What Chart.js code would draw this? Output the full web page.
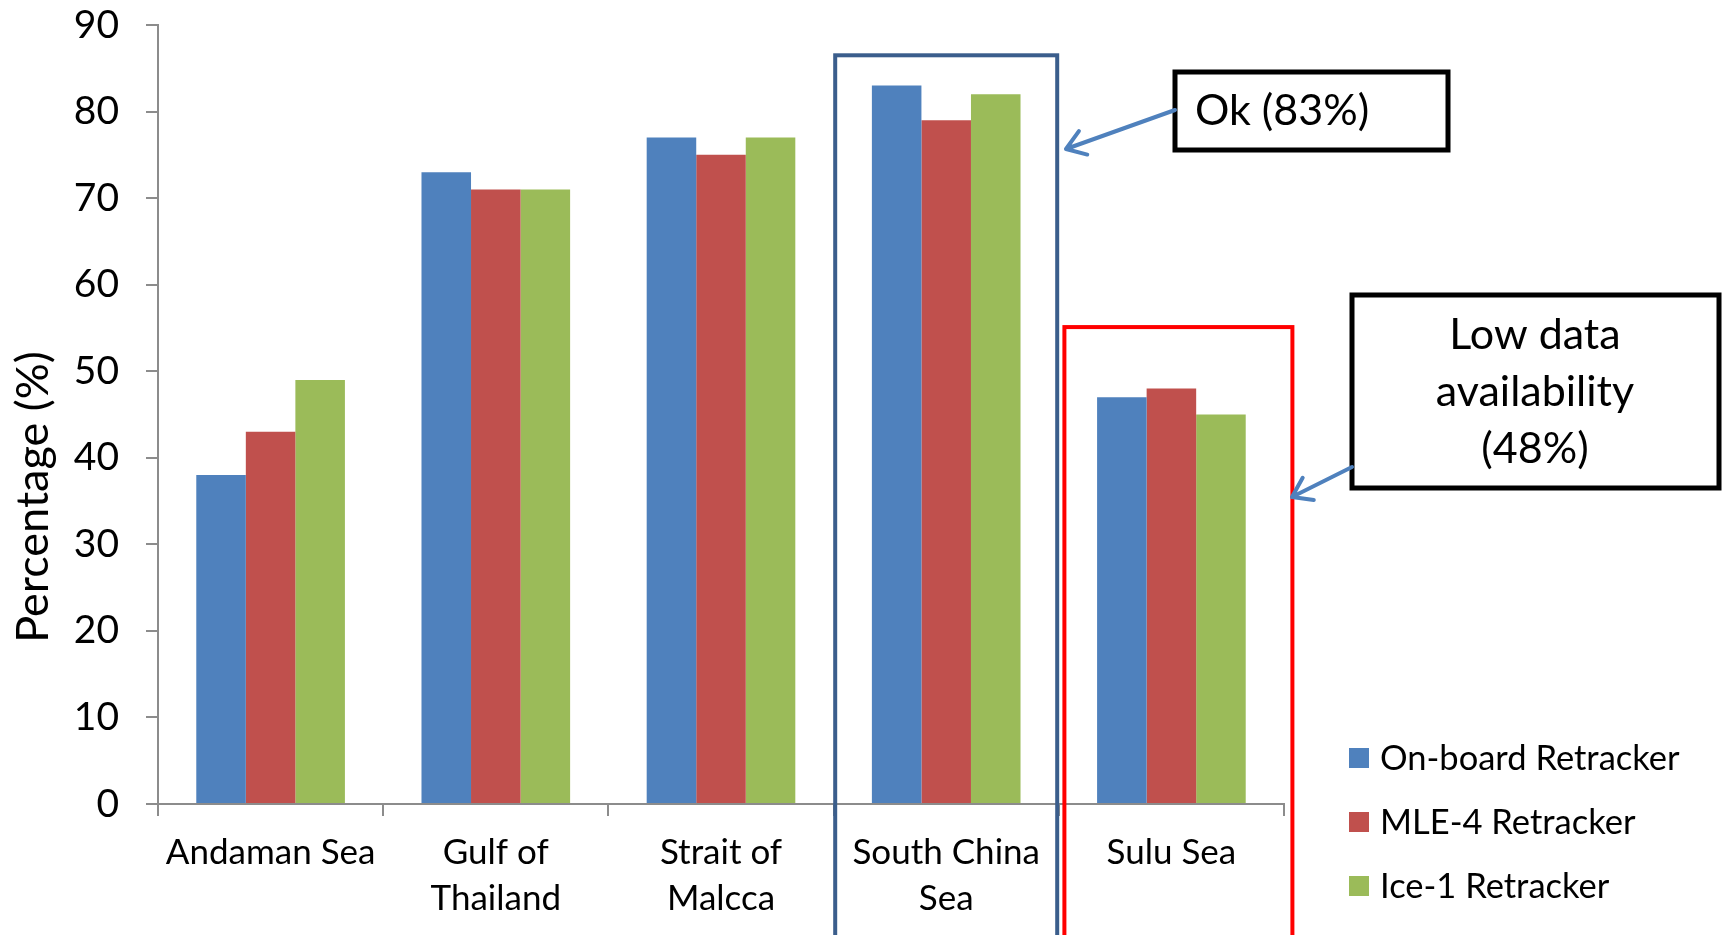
<!DOCTYPE html>
<html>
<head>
<meta charset="utf-8">
<script src="https://cdn.jsdelivr.net/npm/chart.js@4/dist/chart.umd.min.js"></script>
<style>
  html, body { margin: 0; padding: 0; background: #fff; }
  #wrap { width: 1723px; height: 935px; }
</style>
</head>
<body>
<div id="wrap"><canvas id="barChart" width="1723" height="935"></canvas></div>
<script>
const seas = [['Andaman Sea'], ['Gulf of', 'Thailand'], ['Strait of', 'Malcca'], ['South China', 'Sea'], ['Sulu Sea']]
const onBoard = [38, 73, 77, 83, 47]
const mle4 = [43, 71, 75, 79, 48]
const ice1 = [49, 71, 77, 82, 45]
const yTicks = [0, 10, 20, 30, 40, 50, 60, 70, 80, 90]

const FONT = 'Lato, "Open Sans", sans-serif'
const AXIS_GREY = '#8c8c8c'

// axis title, boxes, arrows and the legend drawn on top of the chart
const extras = {
  id: 'extras',
  afterDraw(chart) {
    const ctx = chart.ctx
    const x = chart.scales.x
    const y = chart.scales.y
    ctx.save()

    // y axis title (sits lower than the centre of the axis in the original)
    ctx.save()
    ctx.translate(33, 497)
    ctx.rotate(-Math.PI / 2)
    ctx.fillStyle = '#000'
    ctx.font = '45px ' + FONT
    ctx.textAlign = 'center'
    ctx.textBaseline = 'middle'
    ctx.fillText('Percentage (%)', 0, 0)
    ctx.restore()

    // highlight around South China Sea
    let cx = x.getPixelForValue(3)
    ctx.strokeStyle = '#3B5E8C'
    ctx.lineWidth = 4
    ctx.strokeRect(cx - 111, y.getPixelForValue(86.5), 222, chart.height)

    // highlight around Sulu Sea
    cx = x.getPixelForValue(4)
    ctx.strokeStyle = '#FF0000'
    ctx.strokeRect(cx - 107, y.getPixelForValue(55.1), 228, chart.height)

    // callout boxes
    ctx.strokeStyle = '#000'
    ctx.lineWidth = 5
    ctx.strokeRect(1175, 72, 273, 78)
    ctx.strokeRect(1352, 295, 367, 193)

    ctx.fillStyle = '#000'
    ctx.font = '43px ' + FONT
    ctx.textBaseline = 'middle'
    ctx.textAlign = 'left'
    ctx.fillText('Ok (83%)', 1195, 111)
    ctx.textAlign = 'center'
    ctx.fillText('Low data', 1535, 335)
    ctx.fillText('availability', 1535, 392)
    ctx.fillText('(48%)', 1535, 449)

    // arrows
    const arrow = (x1, y1, x2, y2) => {
      ctx.strokeStyle = '#4F81BD'
      ctx.lineWidth = 4
      ctx.lineCap = 'round'
      ctx.lineJoin = 'round'
      ctx.beginPath()
      ctx.moveTo(x1, y1)
      ctx.lineTo(x2, y2)
      const a = Math.atan2(y2 - y1, x2 - x1)
      const h = 22
      ctx.moveTo(x2 - h * Math.cos(a - 0.6), y2 - h * Math.sin(a - 0.6))
      ctx.lineTo(x2, y2)
      ctx.lineTo(x2 - h * Math.cos(a + 0.6), y2 - h * Math.sin(a + 0.6))
      ctx.stroke()
    }
    arrow(1175, 110, 1066, 149)
    arrow(1352, 467, 1292, 497)

    // legend
    ctx.font = '34.5px ' + FONT
    ctx.textAlign = 'left'
    chart.data.datasets.forEach((ds, i) => {
      const ly = 758 + i * 64
      ctx.fillStyle = ds.backgroundColor
      ctx.fillRect(1349, ly - 10, 20, 20)
      ctx.fillStyle = '#000'
      ctx.fillText(ds.label, 1380, ly + 1)
    })
    ctx.restore()
  }
}

const barData = {
  labels: seas,
  datasets: [
    { label: 'On-board Retracker', data: onBoard, backgroundColor: '#4F81BD' },
    { label: 'MLE-4 Retracker', data: mle4, backgroundColor: '#C0504D' },
    { label: 'Ice-1 Retracker', data: ice1, backgroundColor: '#9BBB59' },
  ],
}

const barConfig = {
  type: 'bar',
  data: barData,
  options: {
    responsive: false,
    animation: false,
    layout: { padding: { left: 0, right: 439, top: 0, bottom: 0 } },
    datasets: { bar: { barPercentage: 1, categoryPercentage: 0.66 } },
    plugins: { legend: { display: false }, tooltip: { enabled: false } },
    scales: {
      x: {
        offset: true,
        border: { color: AXIS_GREY, width: 2 },
        grid: { display: true, drawOnChartArea: false, offset: true, color: AXIS_GREY, lineWidth: 2, tickLength: 12 },
        ticks: { color: '#000', font: { family: FONT, size: 35, lineHeight: 1.3 }, padding: 14, maxRotation: 0 },
        afterFit(scale) { scale.height = 131 },
      },
      y: {
        min: 0,
        max: 90,
        afterBuildTicks(scale) { scale.ticks = yTicks.map(v => ({ value: v })) },
        border: { color: AXIS_GREY, width: 2 },
        grid: { display: true, drawOnChartArea: false, color: AXIS_GREY, lineWidth: 2, tickLength: 12 },
        ticks: { color: '#000', font: { family: FONT, size: 39 }, padding: 27 },
        afterFit(scale) {
          scale.width = 158
          scale.paddingTop = 25
        },
      },
    },
  },
  plugins: [extras],
}

var barChart = new Chart(document.getElementById('barChart'), barConfig)
</script>
</body>
</html>
